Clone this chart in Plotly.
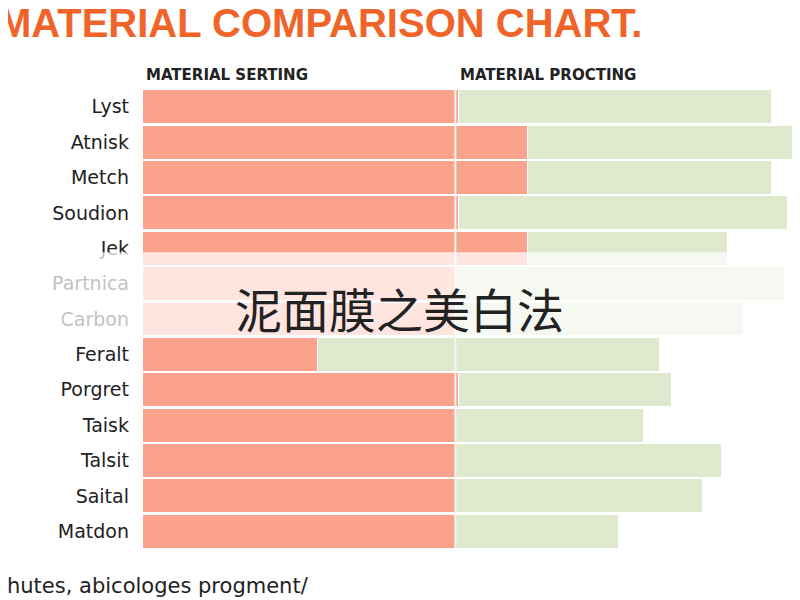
import plotly.graph_objects as go

materials = ["Lyst", "Atnisk", "Metch", "Soudion", "Jek", "Partnica", "Carbon",
             "Feralt", "Porgret", "Taisk", "Talsit", "Saital", "Matdon"]
serting = [101, 123, 123, 101, 123, 100, 100, 56, 101, 100, 100, 100, 100]
procting = [100, 90, 78, 105, 64, 105, 92, 109, 68, 60, 85, 79, 52]

fig = go.Figure()
fig.add_bar(y=materials, x=serting, orientation="h", marker=dict(color="#FBA28C", line=dict(color="white", width=1)))
fig.add_bar(y=materials, x=procting, orientation="h", marker=dict(color="#DEE9CD", line=dict(color="white", width=1)))

fig.add_shape(type="line", xref="x", yref="paper", x0=100, x1=100, y0=0, y1=1,
              line=dict(color="#F4F4F4", width=2))
# faded band with the caption
fig.add_shape(type="rect", xref="paper", yref="paper", x0=-0.3, x1=1, y0=0.465, y1=0.645,
              fillcolor="rgba(255,255,255,0.72)", line_width=0, layer="above")
fig.add_annotation(text="泥面膜之美白法", xref="paper", yref="paper", x=0.392, y=0.526,
                   showarrow=False, font=dict(family="Noto Sans CJK SC", size=47, color="#222"))

fig.add_annotation(text="<b>MATERIAL COMPARISON CHART.</b>", xref="paper", yref="paper",
                   x=-0.222, y=1.195, xanchor="left", showarrow=False,
                   font=dict(family="Liberation Sans", size=40, color="#F0642A"))
fig.add_annotation(text="<b>MATERIAL SERTING</b>", xref="paper", yref="paper", x=0.003, y=1.055,
                   xanchor="left", showarrow=False, font=dict(family="DejaVu Sans", size=15, color="#222"))
fig.add_annotation(text="<b>MATERIAL PROCTING</b>", xref="paper", yref="paper", x=0.481, y=1.055,
                   xanchor="left", showarrow=False, font=dict(family="DejaVu Sans", size=15, color="#222"))
fig.add_annotation(text="hutes, abicologes progment/", xref="paper", yref="paper", x=-0.208, y=-0.11,
                   xanchor="left", showarrow=False, font=dict(family="DejaVu Sans", size=21, color="#222"))

fig.update_layout(
    barmode="stack", bargap=0.04, showlegend=False,
    width=792, height=592, margin=dict(l=134, r=0, t=81, b=51),
    plot_bgcolor="white", paper_bgcolor="white",
    xaxis=dict(range=[0, 210], visible=False, automargin=False),
    yaxis=dict(autorange="reversed", ticks="", ticklabelstandoff=12, automargin=False,
               tickfont=dict(family="DejaVu Sans", size=19, color="#222")),
)
fig.write_html("out.html")
